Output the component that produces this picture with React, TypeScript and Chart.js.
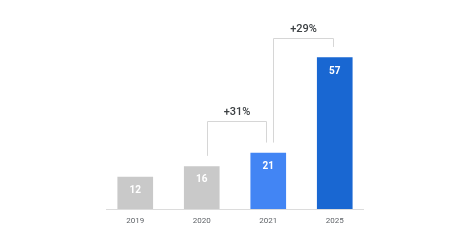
import React, { useEffect, useRef } from "react";
import { Chart, registerables } from "chart.js";

Chart.register(...registerables);

const categories = ["2019", "2020", "2021", "2025"];
const values = [12, 16, 21, 57];
const barColors = ["#c9c9c9", "#c9c9c9", "#4285f4", "#1967d2"];

// Growth brackets: from category index -> to category index, label, top level (value units)
const bracketFrom = [1, 2];
const bracketTo = [2, 3];
const bracketLabels = ["+31%", "+29%"];
const bracketTops = [33, 64.5];

const FONT = "Roboto, 'Noto Sans', sans-serif";

const overlayPlugin = {
  id: "overlay",
  afterDatasetsDraw(chart: any) {
    const { ctx, chartArea, scales } = chart;
    const xs = scales.x;
    const ys = scales.y;
    ctx.save();

    // axis baseline
    ctx.strokeStyle = "#dcdcdc";
    ctx.lineWidth = 1;
    ctx.beginPath();
    ctx.moveTo(chartArea.left + 4, Math.round(chartArea.bottom) + 0.5);
    ctx.lineTo(chartArea.right - 4, Math.round(chartArea.bottom) + 0.5);
    ctx.stroke();

    // value labels inside bars
    ctx.fillStyle = "#ffffff";
    ctx.font = `bold 10px ${FONT}`;
    ctx.textAlign = "center";
    ctx.textBaseline = "middle";
    values.forEach((v, i) => {
      const x = xs.getPixelForValue(i);
      const y = ys.getPixelForValue(v);
      ctx.fillText(String(v), x, y + 13.5);
    });

    // brackets
    const gap = 4;
    ctx.strokeStyle = "#d6d6d6";
    ctx.lineWidth = 1;
    bracketFrom.forEach((f, k) => {
      const t = bracketTo[k];
      const x1 = Math.round(xs.getPixelForValue(f) + 5) + 0.5;
      const x2 = Math.round(xs.getPixelForValue(t) - 2) + 0.5;
      const yTop = Math.round(ys.getPixelForValue(bracketTops[k])) + 0.5;
      const y1 = ys.getPixelForValue(values[f] + gap);
      const y2 = ys.getPixelForValue(values[t] + gap);
      ctx.beginPath();
      ctx.moveTo(x1, y1);
      ctx.lineTo(x1, yTop);
      ctx.lineTo(x2, yTop);
      ctx.lineTo(x2, y2);
      ctx.stroke();
      ctx.fillStyle = "#3c4043";
      ctx.font = `500 11px ${FONT}`;
      ctx.textAlign = "center";
      ctx.textBaseline = "bottom";
      ctx.fillText(bracketLabels[k], (x1 + x2) / 2, yTop - 4);
    });

    ctx.restore();
  },
};

export default function App() {
  const ref = useRef<HTMLCanvasElement>(null);
  useEffect(() => {
    if (!ref.current) return;
    const chart = new Chart(ref.current, {
      type: "bar",
      data: {
        labels: categories,
        datasets: [
          {
            data: values,
            backgroundColor: barColors,
            borderWidth: 0,
            barThickness: 35,
          },
        ],
      },
      options: {
        animation: false,
        responsive: false,
        layout: { padding: { left: 102, right: 106, top: 23, bottom: 0 } },
        plugins: { legend: { display: false }, tooltip: { enabled: false } },
        scales: {
          x: {
            grid: { display: false, drawTicks: false },
            border: { display: false },
            ticks: {
              color: "#5f6368",
              font: { family: FONT, size: 8 },
              padding: 7,
            },
            afterFit: (s: any) => {
              s.height = 35;
            },
          },
          y: {
            display: false,
            min: 0,
            max: 70,
          },
        },
      },
      plugins: [overlayPlugin],
    });
    return () => chart.destroy();
  }, []);
  return (
    <div style={{ position: "absolute", left: 0, top: 0, width: 474, height: 244, background: "#fff" }}>
      <canvas ref={ref} width={474} height={244} style={{ width: 474, height: 244 }} />
    </div>
  );
}
